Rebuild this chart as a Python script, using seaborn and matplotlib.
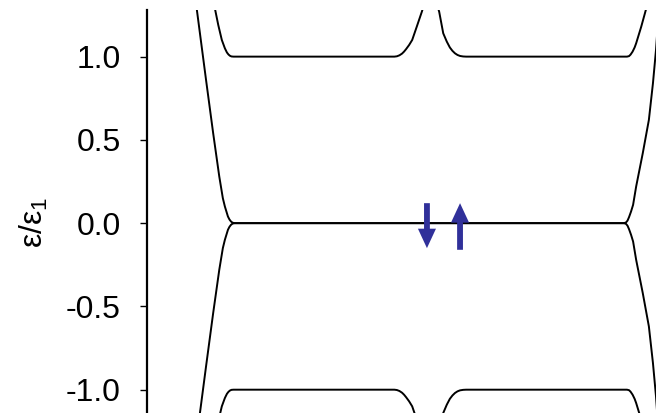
import numpy as np
import pandas as pd
import matplotlib
matplotlib.use("Agg")
import matplotlib.pyplot as plt
import seaborn as sns

# data (x in arbitrary units, y = eps/eps_1)
zero_up_x = [0.96, 0.98, 1.16, 1.30, 1.42, 1.49, 1.53, 1.56, 1.59, 1.62, 1.65, 1.68, 1.72, 9.37, 9.41, 9.44, 9.47, 9.51, 9.55, 9.61, 9.74, 9.86, 9.94, 10.0, 10.06]
zero_up_y = [1.36, 1.28, 0.86, 0.54, 0.28, 0.15, 0.10, 0.07, 0.04, 0.022, 0.01, 0.003, 0.0, 0.0, 0.004, 0.015, 0.036, 0.07, 0.11, 0.22, 0.42, 0.62, 0.84, 1.04, 1.30]
zero_dn_x = [0.96, 0.98, 1.16, 1.30, 1.42, 1.49, 1.53, 1.56, 1.59, 1.62, 1.65, 1.68, 1.72, 9.37, 9.41, 9.44, 9.47, 9.51, 9.55, 9.61, 9.74, 9.86, 9.94, 10.0, 10.06]
zero_dn_y = [-1.36, -1.28, -0.86, -0.54, -0.28, -0.15, -0.10, -0.07, -0.04, -0.022, -0.01, -0.003, 0.0, 0.0, -0.004, -0.015, -0.036, -0.07, -0.11, -0.22, -0.42, -0.62, -0.84, -1.04, -1.30]

band_left_x = [1.30, 1.34, 1.40, 1.47, 1.53, 1.57, 1.60, 1.63, 1.66, 1.70, 4.86, 4.91, 4.96, 5.01, 5.05, 5.09, 5.15, 5.21, 5.30, 5.40, 5.44]
band_right_x = [5.70, 5.74, 5.82, 5.89, 5.95, 6.00, 6.05, 6.10, 6.15, 6.21, 6.27, 9.43, 9.47, 9.50, 9.54, 9.58, 9.61, 9.71, 9.80, 9.84]
band_up_left_y = [1.40, 1.28, 1.19, 1.10, 1.05, 1.025, 1.013, 1.005, 1.001, 1.0, 1.0, 1.002, 1.008, 1.018, 1.03, 1.045, 1.07, 1.10, 1.18, 1.27, 1.31]
band_up_right_y = [1.31, 1.27, 1.14, 1.09, 1.055, 1.035, 1.02, 1.01, 1.004, 1.001, 1.0, 1.0, 1.003, 1.012, 1.03, 1.055, 1.08, 1.18, 1.28, 1.34]
band_dn_left_y = [-1.40, -1.28, -1.19, -1.10, -1.05, -1.025, -1.013, -1.005, -1.001, -1.0, -1.0, -1.002, -1.008, -1.018, -1.03, -1.045, -1.07, -1.10, -1.18, -1.27, -1.31]
band_dn_right_y = [-1.31, -1.27, -1.14, -1.09, -1.055, -1.035, -1.02, -1.01, -1.004, -1.001, -1.0, -1.0, -1.003, -1.012, -1.03, -1.055, -1.08, -1.18, -1.28, -1.34]

# spin arrows: (x, tail y, head y)
spin_x = [5.50, 6.15]
spin_tail = [0.12, -0.16]
spin_head = [-0.15, 0.12]

yticks = [-1.0, -0.5, 0.0, 0.5, 1.0]

sns.set_theme(style="ticks")
plt.rcParams['font.family'] = ['Liberation Sans', 'DejaVu Sans']
plt.rcParams['mathtext.fontset'] = 'custom'
plt.rcParams['mathtext.rm'] = 'Liberation Sans'
plt.rcParams['mathtext.it'] = 'Liberation Sans'

fig = plt.figure(figsize=(6.56, 4.13), dpi=100)
ax = fig.add_axes([147 / 656, 0.0, 509 / 656, 403 / 413])

curves = [
    (zero_up_x, zero_up_y), (zero_dn_x, zero_dn_y),
    (band_left_x, band_up_left_y), (band_right_x, band_up_right_y),
    (band_left_x, band_dn_left_y), (band_right_x, band_dn_right_y),
]
for cx, cy in curves:
    df = pd.DataFrame({"x": cx, "y": cy})
    sns.lineplot(data=df, x="x", y="y", ax=ax, color="black", lw=1.4,
                 sort=False, estimator=None)

for sx, t, h in zip(spin_x, spin_tail, spin_head):
    ax.annotate("", xy=(sx, h), xytext=(sx, t),
                arrowprops=dict(arrowstyle="simple,head_width=13,head_length=14,tail_width=4.2",
                                mutation_scale=1, color="#30309a", shrinkA=0, shrinkB=0, lw=0))

ax.set_xlim(0, 10)
ax.set_ylim(-1.14, 1.28)
ax.set_yticks(yticks)
ax.set_yticklabels([f"{v:.1f}" for v in yticks])
ax.tick_params(axis="y", labelsize=23, length=5, width=1, pad=14, direction="out",
               colors="black", labelcolor="black")
ax.set_xticks([])
ax.set_xlabel("")
ax.set_ylabel(r"ε/ε$_1$", fontsize=23, color="black")
ax.yaxis.set_label_coords(-0.19, 0.474)
for s in ["top", "right", "bottom"]:
    ax.spines[s].set_visible(False)
ax.spines["left"].set_linewidth(1.6)
ax.spines["left"].set_color("black")
ax.set_facecolor("white")

fig.savefig("out.png", dpi=100, facecolor="white")
